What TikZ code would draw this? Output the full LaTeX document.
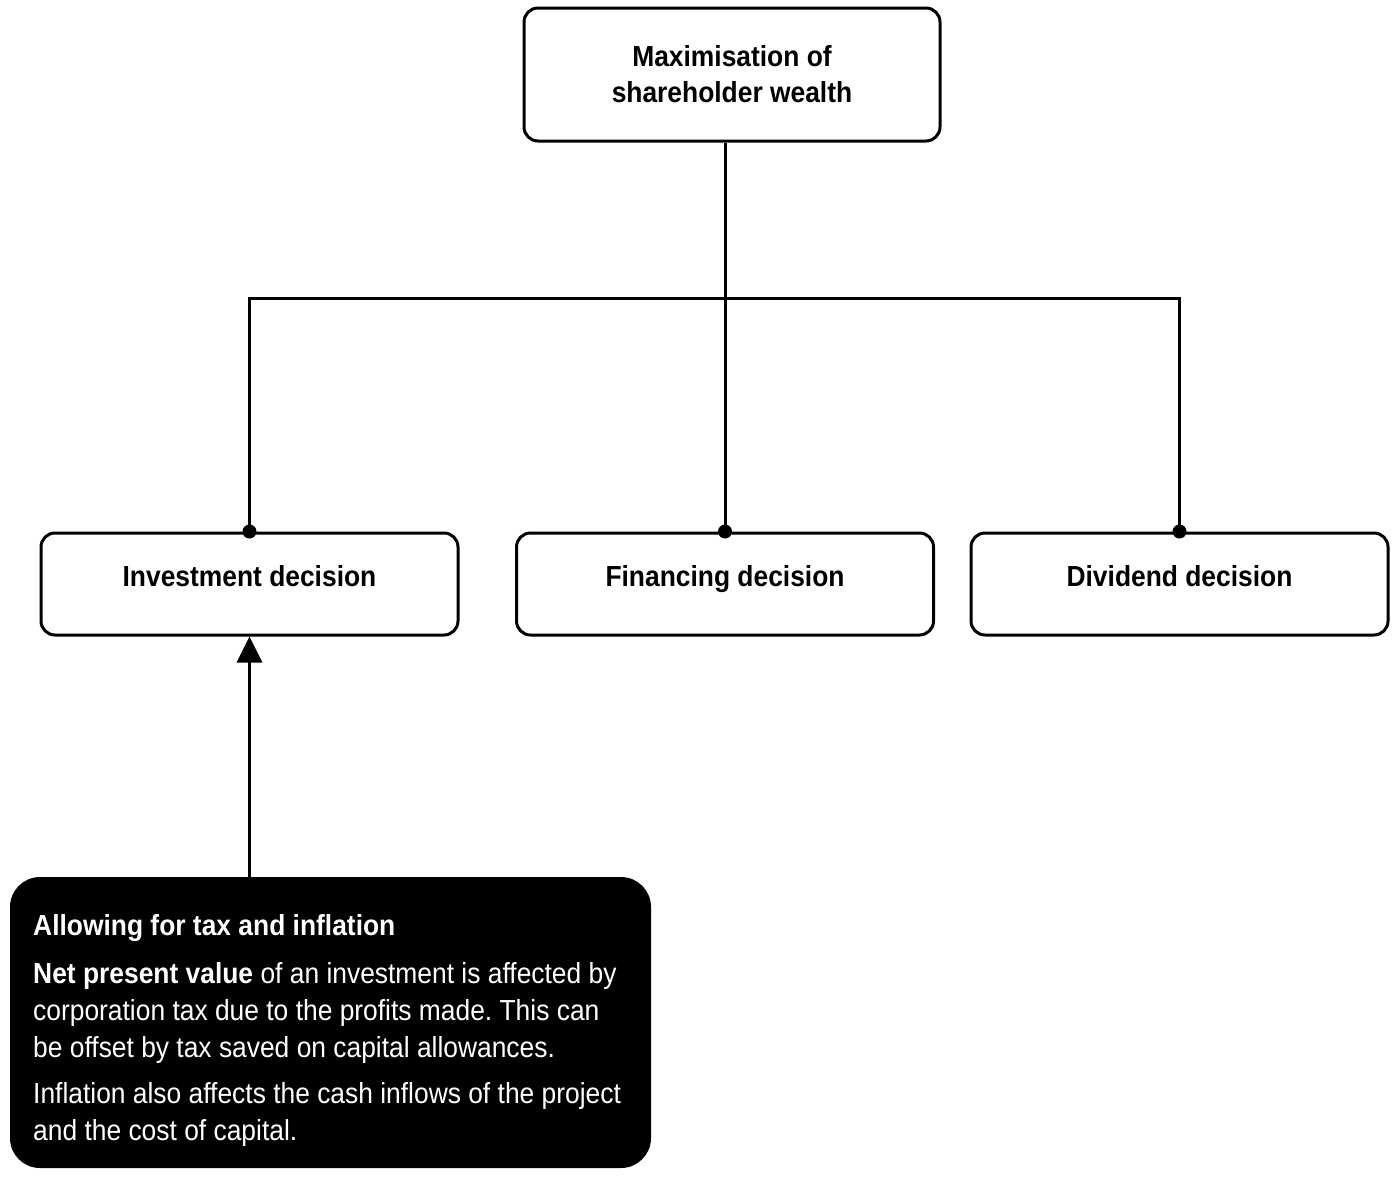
\documentclass[tikz,border=0pt]{standalone}
\usepackage{fontspec}
\setmainfont[FakeStretch=0.91]{Liberation Sans}
\usetikzlibrary{arrows.meta}
\frenchspacing
\begin{document}
\begin{tikzpicture}[x=1pt,y=-1pt,
  topbox/.style={draw, line width=3pt, rounded corners=14pt, minimum width=416pt,
    minimum height=133pt, inner sep=0pt, align=center,
    font={\fontsize{29}{36}\selectfont\bfseries}},
  decision/.style={draw, line width=3pt, rounded corners=14pt, minimum width=417pt,
    minimum height=102pt, inner sep=0pt, font={\fontsize{29}{36}\selectfont\bfseries},
    text height=21pt, text depth=17pt},
  notebox/.style={fill=black, rounded corners=30pt, minimum width=641pt,
    minimum height=291pt, inner sep=0pt},
  notetxt/.style={text=white, font={\fontsize{29}{37}\selectfont},
    text width=640pt, align=left, inner sep=0pt},
  link/.style={line width=3pt},
  joint/.style={circle, fill=black, inner sep=0pt, minimum size=14pt},
  feeds/.style={line width=3pt, -{Triangle[length=26pt,width=25pt]}}]

\useasboundingbox (0,0) rectangle (1396,1176);

% goal at the top
\node[topbox] (goal) at (732,74.5) {Maximisation of\\shareholder wealth};

% the three decisions
\node[decision] (inv) at (249.5,584) {Investment decision};
\node[decision] (fin) at (725,584) {Financing decision};
\node[decision] (div) at (1179.5,584) {Dividend decision};

% branching bus
\coordinate (bus) at (726,298);
\draw[link] (goal.south -| fin.north) -- (fin.north);
\draw[link] (inv.north) -- (inv.north |- bus) -- (div.north |- bus) -- (div.north);

% junction dots on the decision boxes
\node[joint] (jinv) at (inv.north) {};
\node[joint] (jfin) at (fin.north) {};
\node[joint] (jdiv) at (div.north) {};

% note on tax and inflation (natural interword spacing)
\node[notebox] (note) at (330.5,1022.5) {};
\node[notetxt, anchor=base west] (notetext) at (33,935)
  {\spaceskip=0pt\xspaceskip=0pt\relax
   \textbf{Allowing for tax and inflation}\\[11pt]
   \textbf{Net present value} of an investment is affected by\\
   corporation tax due to the profits made. This can\\
   be offset by tax saved on capital allowances.\\[9pt]
   Inflation also affects the cash inflows of the project\\
   and the cost of capital.};

\draw[feeds] (note.north -| inv.south) -- (inv.south);
\end{tikzpicture}
\end{document}
